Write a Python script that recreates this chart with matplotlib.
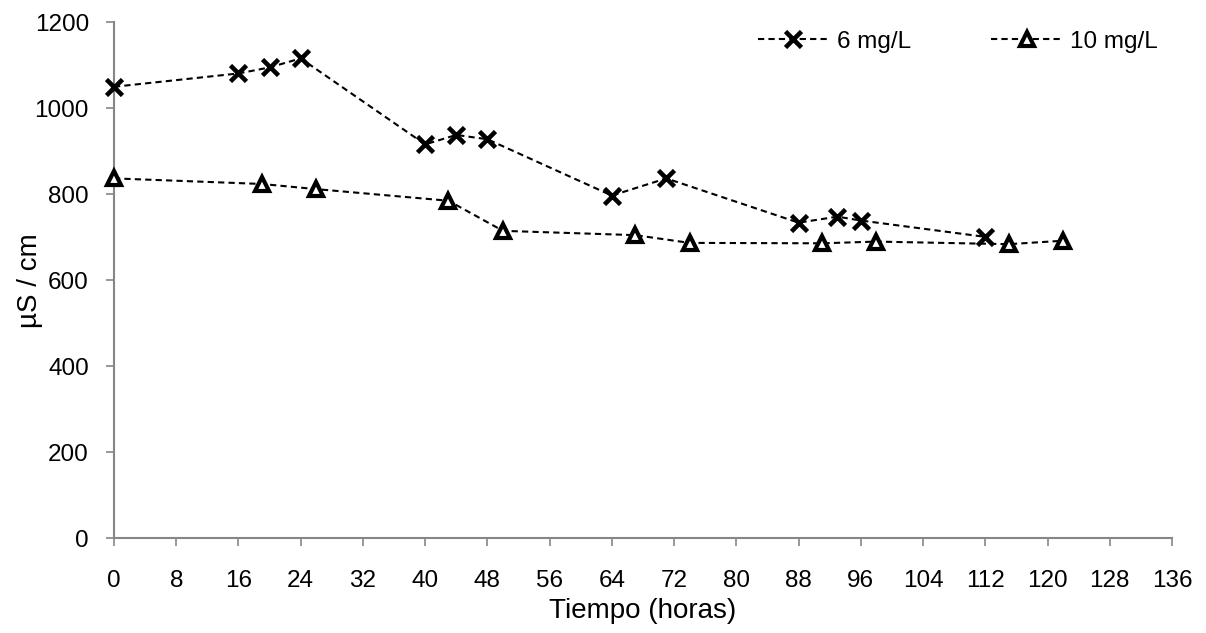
import matplotlib
matplotlib.use('Agg')
import matplotlib.pyplot as plt

plt.rcParams['font.family'] = ['Liberation Sans', 'DejaVu Sans']

# data
t_6 = [0, 16, 20, 24, 40, 44, 48, 64, 71, 88, 93, 96, 112]
c_6 = [1050, 1081, 1095, 1116, 916, 938, 928, 797, 837, 734, 748, 739, 701]

t_10 = [0, 19, 26, 43, 50, 67, 74, 91, 98, 115, 122]
c_10 = [837, 824, 812, 785, 715, 705, 687, 686, 690, 684, 692]

x_ticks = list(range(0, 137, 8))
y_ticks = list(range(0, 1201, 200))

AXIS_GREY = '#868686'

fig = plt.figure(figsize=(12.06, 6.33), dpi=100)
ax = fig.add_axes([0.0945, 0.1496, 0.8773, 0.9648 - 0.1496])

ax.plot(t_6, c_6, ls=(0, (3, 2)), color='black', lw=1.5,
        marker='x', ms=11, mew=3.3, mec='black', label='6 mg/L', zorder=3,
        clip_on=False)
ax.plot(t_10, c_10, ls=(0, (3, 2)), color='black', lw=1.5,
        marker='^', ms=10.5, mew=3, mec='black', mfc='white', label='10 mg/L',
        zorder=3, clip_on=False)

ax.set_xlim(0, 136)
ax.set_ylim(0, 1200)
ax.set_xticks(x_ticks)
ax.set_yticks(y_ticks)
ax.tick_params(axis='both', labelsize=17.5, color=AXIS_GREY, length=6, width=1.2,
               direction='out')
ax.tick_params(axis='x', pad=16.5)
ax.tick_params(axis='y', pad=12)
for s in ['top', 'right']:
    ax.spines[s].set_visible(False)
for s in ['left', 'bottom']:
    ax.spines[s].set_color(AXIS_GREY)
    ax.spines[s].set_linewidth(1.5)

ax.set_xlabel('Tiempo (horas)', fontsize=20, labelpad=5)
ax.set_ylabel('µS / cm', fontsize=20)
ax.yaxis.label.set_va('center')
ax.yaxis.set_label_coords(-0.079, 0.5)

ax.legend(loc='center right', bbox_to_anchor=(0.987, 0.962), ncol=2, frameon=False,
          fontsize=17.5, handlelength=2.9, columnspacing=3.3, handletextpad=0.35,
          borderaxespad=0, borderpad=0)

fig.savefig('out.png', dpi=100)
